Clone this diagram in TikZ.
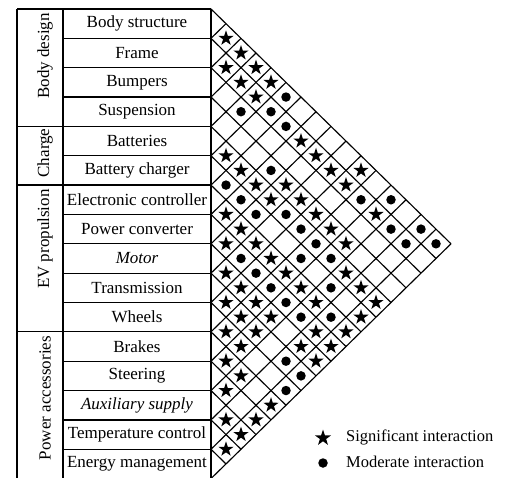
\documentclass[tikz,border=0pt]{standalone}
\usepackage{fontspec}
\setmainfont{Liberation Serif}
\usetikzlibrary{shapes.geometric}
\begin{document}
\begin{tikzpicture}[x=1pt,y=-1pt,
  tline/.style={line width=1.2pt},
  gline/.style={line width=1.15pt},
  rowlab/.style={font=\fontsize{17}{20}\selectfont, inner sep=0pt},
  grplab/.style={font=\fontsize{17}{20}\selectfont, rotate=90, anchor=east, inner sep=0pt},
  leglab/.style={font=\fontsize{16.5}{20}\selectfont, anchor=west, inner sep=0pt},
  sig/.style={star, star points=5, star point ratio=2.6, fill=black, inner sep=0pt, minimum size=16pt},
  mod/.style={circle, fill=black, inner sep=0pt, minimum size=9.5pt}]
\useasboundingbox (0,0) rectangle (516,478);
\def\h{29.35}
% table frame
\draw[tline] (17,9) -- (211,9);
\draw[tline] (17,9) -- (17,{9+16*\h});
\draw[tline] (63,9) -- (63,{9+16*\h});
\draw[tline] (211,9) -- (211,{9+16*\h});
\foreach \k in {1,...,16}{
  \draw[tline] (63,{9+\k*\h}) -- (211,{9+\k*\h});
}
\foreach \k in {4,6,11,16}{
  \draw[tline] (17,{9+\k*\h}) -- (63,{9+\k*\h});
}
% diamond grid
\foreach \k in {0,...,16}{
  \pgfmathsetmacro\b{9+\k*\h}
  \draw[gline] (211,\b) -- ++({(16-\k)*15},{(16-\k)*\h/2});
  \draw[gline] (211,\b) -- ++({\k*15},{-\k*\h/2});
}
% row labels
\foreach \t [count=\i] in {Body structure, Frame, Bumpers, Suspension, Batteries, Battery charger, Electronic controller, Power converter, {\itshape Motor}, Transmission, Wheels, Brakes, Steering, {\itshape Auxiliary supply}, Temperature control, Energy management}{
  \node[rowlab] (row\i) at (137,{9+(\i-0.5)*\h}) {\t};
}
% group labels
\node[grplab] (g1) at (45,{9+0*\h+4}) {Body design};
\node[grplab] (g2) at (45,{9+4*\h+2}) {Charge};
\node[grplab] (g3) at (45,{9+6*\h+4}) {EV propulsion};
\node[grplab] (g4) at (45,{9+11*\h+4}) {Power accessories};
% significant interactions
\foreach \i/\j in {1/2,1/3,2/3,1/4,2/4,1/5,2/5,2/8,2/9,5/6,5/7,2/10,1/11,5/8,4/9,2/11,5/9,4/10,7/8,4/11,2/13,7/9,4/12,4/13,5/14,5/15,5/16,6/16,8/9,7/10,7/11,9/10,7/12,9/11,7/13,10/11,9/12,7/14,10/12,9/13,11/12,10/13,8/15,7/16,11/13,9/15,8/16,12/13,9/16,12/14,13/14,12/16,14/15,13/16,14/16,15/16}{
  \node[sig] (s\i-\j) at ({211+15*(\j-\i)},{9+(\i+\j-1)*\h/2}) {};
}
% moderate interactions
\foreach \i/\j in {1/6,3/5,2/6,2/7,4/8,6/7,6/8,2/12,1/13,6/9,5/10,5/11,2/14,1/15,2/15,1/16,5/13,6/14,5/12,8/10,6/12,8/11,8/12,8/13,8/14,7/15,10/15,10/16,11/16}{
  \node[mod] (m\i-\j) at ({211+15*(\j-\i)},{9+(\i+\j-1)*\h/2}) {};
}
% legend
\node[sig, minimum size=17pt] (legs) at (323,438) {};
\node[leglab] (legst) at (346,437) {Significant interaction};
\node[mod] (legm) at (323,463) {};
\node[leglab] (legmt) at (346,462) {Moderate interaction};
\end{tikzpicture}
\end{document}
